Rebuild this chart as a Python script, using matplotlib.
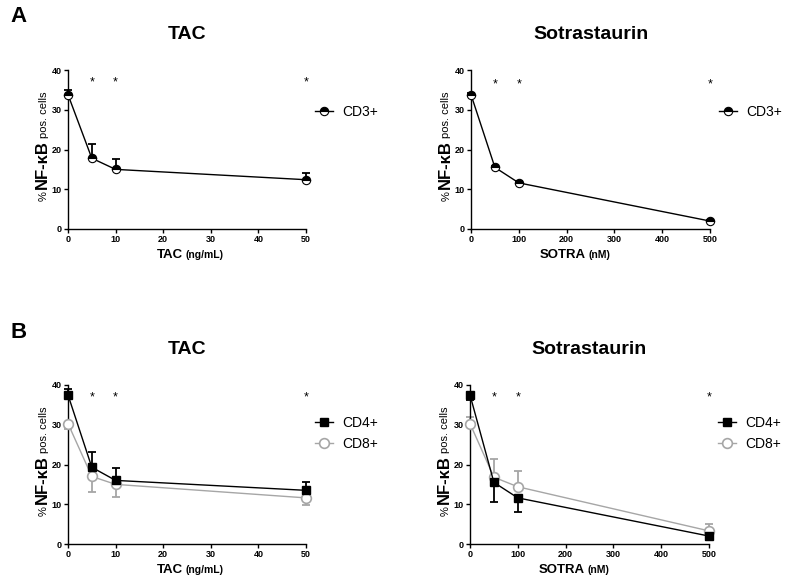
import matplotlib
matplotlib.use("Agg")
import matplotlib.pyplot as plt

plt.rcParams['font.family'] = ['Liberation Sans', 'DejaVu Sans']

# panel A data
tac_x = [0, 5, 10, 50]
sotra_x = [0, 50, 100, 500]
tac_cd3 = [33.8, 17.8, 15.0, 12.4]
tac_cd3_err = [1.2, 3.7, 2.6, 1.6]
sotra_cd3 = [33.8, 15.5, 11.6, 2.0]
sotra_cd3_err = [0.4, 0.4, 0.4, 0.3]

# panel B data
tac_cd4 = [37.5, 19.3, 16.0, 13.5]
tac_cd4_err = [1.5, 3.9, 3.0, 2.1]
tac_cd8 = [30.3, 17.0, 15.0, 11.6]
tac_cd8_err = [1.3, 3.8, 3.1, 1.9]
sotra_cd4 = [37.5, 15.5, 11.6, 2.0]
sotra_cd4_err = [1.2, 4.9, 3.5, 1.0]
sotra_cd8 = [30.3, 16.8, 14.4, 3.3]
sotra_cd8_err = [1.7, 4.6, 3.9, 1.7]

stars_tac = [5, 10, 50]
stars_sotra = [50, 100, 500]

GRAY = '#a6a6a6'

fig = plt.figure(figsize=(7.87, 5.79), dpi=100)

W = 787.0
H = 579.0


def make_ax(x0, x1, y_top, y_bot):
    return fig.add_axes([x0 / W, (H - y_bot) / H, (x1 - x0) / W, (y_bot - y_top) / H])


def style(ax, xmax, xticks, title, xlab_main, xlab_unit):
    ax.set_xlim(0, xmax)
    ax.set_ylim(0, 40)
    ax.set_xticks(xticks)
    ax.set_yticks([0, 10, 20, 30, 40])
    for s in ['top', 'right']:
        ax.spines[s].set_visible(False)
    for s in ['left', 'bottom']:
        ax.spines[s].set_linewidth(1.0)
    ax.tick_params(direction='out', length=3, width=1, labelsize=6.5, pad=1.5)
    for lab in ax.get_xticklabels() + ax.get_yticklabels():
        lab.set_fontweight('bold')
    ax.set_title(title, fontsize=14, fontweight='bold', pad=22)
    # x label, two sizes
    ax.text(0.482, -0.18, xlab_main, transform=ax.transAxes, ha='right', va='baseline',
            fontsize=9.5, fontweight='bold')
    ax.text(0.492, -0.18, xlab_unit, transform=ax.transAxes, ha='left', va='baseline',
            fontsize=7.5, fontweight='bold')
    # y label, three pieces
    kw = dict(transform=ax.transAxes, rotation=90, rotation_mode='anchor',
              ha='center', va='baseline')
    ax.text(-0.09, 0.205, '%', fontsize=8, **kw)
    ax.text(-0.09, 0.405, 'NF-κB', fontsize=12, fontweight='bold', **kw)
    ax.text(-0.09, 0.72, 'pos. cells', fontsize=8, **kw)


def stars(ax, xs, y):
    for x in xs:
        ax.text(x, y, '*', ha='center', va='center', fontsize=9)


def series(ax, x, y, err, up, color, marker, ms, label, **mk):
    e = [[0] * len(err), err] if up else [err, [0] * len(err)]
    ax.errorbar(x, y, yerr=e, fmt='none', ecolor=color, elinewidth=1.3, capsize=3,
                capthick=1.3, clip_on=False, zorder=2)
    ax.plot(x, y, color=color, lw=1, marker=marker, ms=ms, label=label,
            clip_on=False, zorder=3, **mk)


def legend(ax, y, reverse=False):
    h, l = ax.get_legend_handles_labels()
    if reverse:
        h, l = h[::-1], l[::-1]
    ax.legend(h, l, loc='center left', bbox_to_anchor=(1.036, y), frameon=False,
              fontsize=10, handlelength=1.3, handletextpad=0.7, labelspacing=0.5,
              borderpad=0, borderaxespad=0)


half = dict(fillstyle='top', markerfacecolor='black', markerfacecoloralt='white',
            markeredgecolor='black', markeredgewidth=0.8)

# A left
ax1 = make_ax(68, 306, 70, 229)
series(ax1, tac_x, tac_cd3, tac_cd3_err, True, 'black', 'o', 6, 'CD3+', **half)
stars(ax1, stars_tac, 36.8)
style(ax1, 50, [0, 10, 20, 30, 40, 50], 'TAC', 'TAC', '(ng/mL)')
legend(ax1, 0.735)

# A right
ax2 = make_ax(471, 710, 70, 229)
series(ax2, sotra_x, sotra_cd3, sotra_cd3_err, True, 'black', 'o', 6, 'CD3+', **half)
stars(ax2, stars_sotra, 36.3)
style(ax2, 500, [0, 100, 200, 300, 400, 500], 'Sotrastaurin', 'SOTRA', '(nM)')
legend(ax2, 0.735)

# B left
ax3 = make_ax(68, 306, 385, 544)
series(ax3, tac_x, tac_cd8, tac_cd8_err, False, GRAY, 'o', 7, 'CD8+',
       markerfacecolor='white', markeredgecolor=GRAY, markeredgewidth=1.2)
series(ax3, tac_x, tac_cd4, tac_cd4_err, True, 'black', 's', 5.5, 'CD4+')
stars(ax3, stars_tac, 36.8)
style(ax3, 50, [0, 10, 20, 30, 40, 50], 'TAC', 'TAC', '(ng/mL)')
legend(ax3, 0.695, reverse=True)

# B right
ax4 = make_ax(470, 709, 385, 544)
series(ax4, sotra_x, sotra_cd8, sotra_cd8_err, True, GRAY, 'o', 7, 'CD8+',
       markerfacecolor='white', markeredgecolor=GRAY, markeredgewidth=1.2)
series(ax4, sotra_x, sotra_cd4, sotra_cd4_err, False, 'black', 's', 5.5, 'CD4+')
stars(ax4, stars_sotra, 36.8)
style(ax4, 500, [0, 100, 200, 300, 400, 500], 'Sotrastaurin', 'SOTRA', '(nM)')
legend(ax4, 0.695, reverse=True)

fig.text(10 / W, 1 - 17 / H, 'A', fontsize=16, fontweight='bold', va='center', ha='left')
fig.text(10 / W, 1 - 332 / H, 'B', fontsize=16, fontweight='bold', va='center', ha='left')

fig.savefig('out.png', dpi=100)
